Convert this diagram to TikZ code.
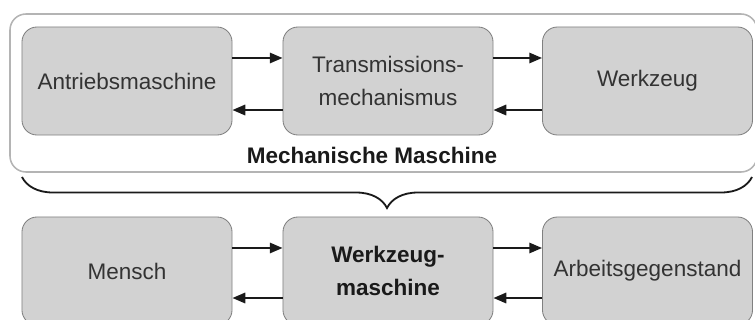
\documentclass[tikz,border=0pt]{standalone}
\usepackage{fontspec}
\setmainfont{Liberation Sans}
\usetikzlibrary{arrows.meta,decorations.pathreplacing}

\definecolor{blockfill}{HTML}{D2D2D2}
\definecolor{blockline}{HTML}{808080}
\definecolor{framegray}{HTML}{B4B4B4}
\definecolor{textgray}{HTML}{333333}
\definecolor{darkline}{HTML}{1A1A1A}

\tikzset{
  block/.style={draw=blockline, fill=blockfill, line width=0.6pt, rounded corners=0.375cm,
    minimum width=5.25cm, minimum height=2.7cm, inner sep=0pt, align=center,
    text=textgray, font=\fontsize{16}{23}\selectfont},
  boldblock/.style={block, text=darkline, font=\fontsize{16}{23}\selectfont\bfseries},
  flow/.style={draw=darkline, line width=1.4pt, -{Triangle[length=3.2mm,width=2.6mm]}},
}

\begin{document}
\begin{tikzpicture}[x=0.025cm,y=-0.025cm]
  \useasboundingbox (0,0) rectangle (755,320);
  \clip (0,0) rectangle (755,320);

  % Frame of the mechanical machine
  \draw [draw=framegray, line width=1.1pt, rounded corners=0.4cm] (10,14) rectangle (757,172);
  \node [font=\fontsize{16}{20}\selectfont\bfseries, text=darkline] (mechlabel) at (372,155) {Mechanische Maschine};

  % Upper row: parts of the machine
  \node [block] (antrieb) at (127,81) {Antriebsmaschine};
  \node [block] (trans) at (388,81) {Transmissions-\\mechanismus};
  \node [block] (werkzeug) at (647.5,81) {Werkzeug};

  % Brace between the rows
  \draw [draw=darkline, line width=1.3pt, decorate,
    decoration={brace, mirror, amplitude=0.775cm}] (22,177) -- (752,177);

  % Lower row
  \node [block] (mensch) at (127,271) {Mensch};
  \node [boldblock] (wzm) at (388,271) {Werkzeug-\\maschine};
  \node [block] (gegenstand) at (647.5,271) {Arbeitsgegenstand};

  % Arrows of the upper row
  \draw [flow] ([yshift=0.575cm]antrieb.east) -- ([yshift=0.575cm]trans.west);
  \draw [flow] ([yshift=-0.725cm]trans.west) -- ([yshift=-0.725cm]antrieb.east);
  \draw [flow] ([yshift=0.575cm]trans.east) -- ([yshift=0.575cm]werkzeug.west);
  \draw [flow] ([yshift=-0.725cm]werkzeug.west) -- ([yshift=-0.725cm]trans.east);

  % Arrows of the lower row
  \draw [flow] ([yshift=0.575cm]mensch.east) -- ([yshift=0.575cm]wzm.west);
  \draw [flow] ([yshift=-0.675cm]wzm.west) -- ([yshift=-0.675cm]mensch.east);
  \draw [flow] ([yshift=0.575cm]wzm.east) -- ([yshift=0.575cm]gegenstand.west);
  \draw [flow] ([yshift=-0.675cm]gegenstand.west) -- ([yshift=-0.675cm]wzm.east);
\end{tikzpicture}
\end{document}
